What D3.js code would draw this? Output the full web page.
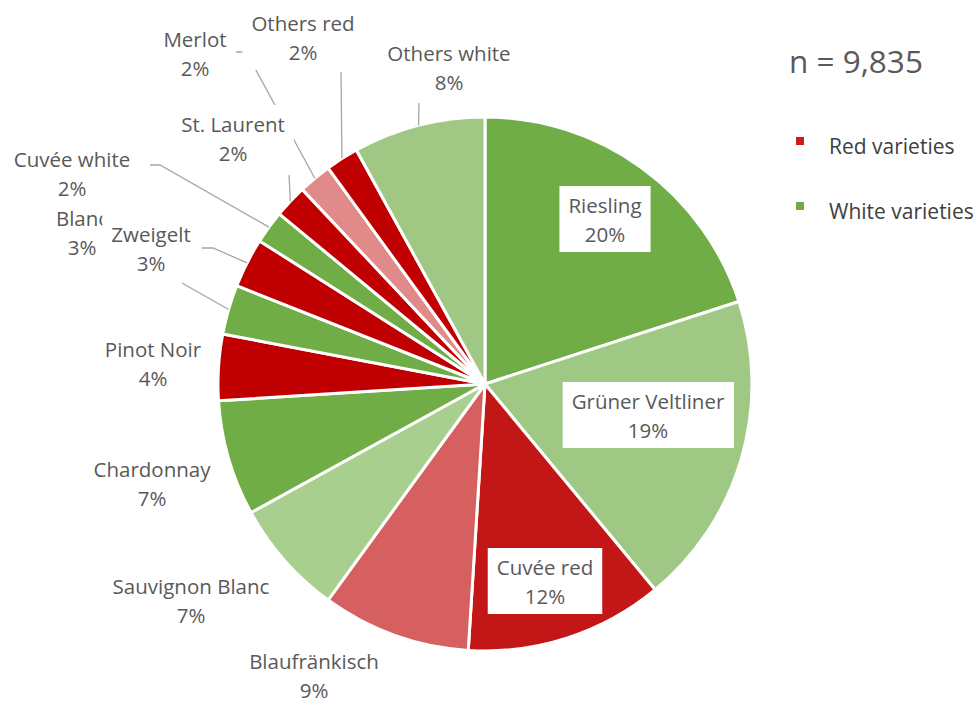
<!DOCTYPE html>
<html>
<head>
<meta charset="utf-8">
<script src="https://cdn.jsdelivr.net/npm/d3@7"></script>
<style>
  body { margin: 0; background: #fff; }
  text { font-family: "Open Sans", "Noto Sans", sans-serif; }
</style>
</head>
<body>
<div id="chart"></div>
<script>
// Data (share of each grape variety, in %)
const varieties = ["Riesling", "Grüner Veltliner", "Cuvée red", "Blaufränkisch", "Sauvignon Blanc",
    "Chardonnay", "Pinot Noir", "Pinot Blanc", "Zweigelt", "Cuvée white", "St. Laurent",
    "Merlot", "Others red", "Others white"];
const shares = [20, 19, 12, 9, 7, 7, 4, 3, 3, 2, 2, 2, 2, 8];
const wineType = ["white", "white", "red", "red", "white", "white", "red", "white", "red",
    "white", "red", "red", "red", "white"];
const sampleSize = "n = 9,835";
const legendLabels = ["Red varieties", "White varieties"];

// Slice colours (shades per variety)
const sliceColors = ["#70ad47", "#9fc884", "#c31616", "#d65f5f", "#a9cf8f", "#70ad47", "#c00000",
    "#70ad47", "#c00000", "#70ad47", "#c00000", "#e08a8a", "#c00000", "#a0c884"];
const typeColors = { red: "#cc1c1c", white: "#70ad47" };

// Label placement (Excel-style manual layout); leader lines end on the slice edge
const labelLayout = {
    "Riesling":         { x: 605, y: 206, inside: true },
    "Grüner Veltliner": { x: 648, y: 402, inside: true },
    "Cuvée red":        { x: 545, y: 568, inside: true },
    "Blaufränkisch":    { x: 314, y: 662 },
    "Sauvignon Blanc":  { x: 191, y: 587 },
    "Chardonnay":       { x: 152, y: 470 },
    "Pinot Noir":       { x: 153, y: 350 },
    "Pinot Blanc":      { x: 82,  y: 190, lines: ["Pinot", "Blanc"], leader: [[182, 283]] },
    "Zweigelt":         { x: 151, y: 235, leader: [[202, 248], [213, 248]] },
    "Cuvée white":      { x: 72,  y: 160, leader: [[150, 165], [160, 165]] },
    "St. Laurent":      { x: 233, y: 125, leader: [[289, 175]] },
    "Merlot":           { x: 195, y: 40,  leader: [[236, 52], [246, 52]] },
    "Others red":       { x: 303, y: 24,  leader: [[341, 72]] },
    "Others white":     { x: 449, y: 54,  leader: [[419, 103]] }
};

const width = 977, height = 702;
const cx = 485, cy = 384, radius = 267;
const lineGap = 29;
const textColor = "#595959";

const svg = d3.select("#chart").append("svg")
    .attr("width", width)
    .attr("height", height);

const rows = varieties.map((name, i) => ({ name, share: shares[i], color: sliceColors[i] }));
const pie = d3.pie().sort(null).value(d => d.share);
const arc = d3.arc().innerRadius(0).outerRadius(radius);
const arcs = pie(rows);

// Slices
const g = svg.append("g").attr("transform", `translate(${cx},${cy})`);
g.selectAll("path")
    .data(arcs)
    .enter().append("path")
    .attr("d", arc)
    .attr("fill", d => d.data.color)
    .attr("stroke", "#fff")
    .attr("stroke-width", 3)
    .attr("stroke-linejoin", "round");

// Point on the outer edge, in the middle of the slice
function edgePoint(d) {
    const a = (d.startAngle + d.endAngle) / 2;
    return [cx + radius * Math.sin(a), cy - radius * Math.cos(a)];
}

// Leader lines (drawn first so label boxes can cover them)
const leaderGroup = svg.append("g");
arcs.forEach(d => {
    const lay = labelLayout[d.data.name];
    if (!lay.leader) return;
    const pts = lay.leader.concat([edgePoint(d)]);
    leaderGroup.append("path")
        .attr("d", d3.line()(pts))
        .attr("fill", "none")
        .attr("stroke", "#a6a6a6")
        .attr("stroke-width", 1.3);
});

// Data labels with white boxes
const labelGroup = svg.append("g");
arcs.forEach(d => {
    const lay = labelLayout[d.data.name];
    const lines = (lay.lines || [d.data.name]).concat([d.data.share + "%"]);
    const lg = labelGroup.append("g");
    const rect = lg.append("rect").attr("fill", "#fff");
    const txt = lg.append("text")
        .attr("text-anchor", "middle")
        .attr("font-size", 20.5)
        .attr("fill", textColor);
    lines.forEach((l, i) => {
        txt.append("tspan")
            .attr("x", lay.x)
            .attr("y", lay.y + 7 + i * lineGap)
            .text(l);
    });
    const bb = txt.node().getBBox();
    const padX = 9;
    rect.attr("x", bb.x - padX)
        .attr("y", lay.y - 20)
        .attr("width", bb.width + padX * 2)
        .attr("height", (lines.length - 1) * lineGap + 37);
});

// Sample size and legend
svg.append("text")
    .attr("x", 789)
    .attr("y", 73)
    .attr("font-size", 31.5)
    .attr("fill", textColor)
    .text(sampleSize);

const legend = svg.append("g")
    .selectAll("g")
    .data(legendLabels)
    .enter().append("g")
    .attr("transform", (d, i) => `translate(796,${137 + i * 65})`);

legend.append("rect")
    .attr("width", 8)
    .attr("height", 8)
    .attr("fill", (d, i) => i === 0 ? typeColors.red : typeColors.white);

legend.append("text")
    .attr("x", 33)
    .attr("y", 17)
    .attr("font-size", 21)
    .attr("fill", "#404040")
    .text(d => d);
</script>
</body>
</html>
